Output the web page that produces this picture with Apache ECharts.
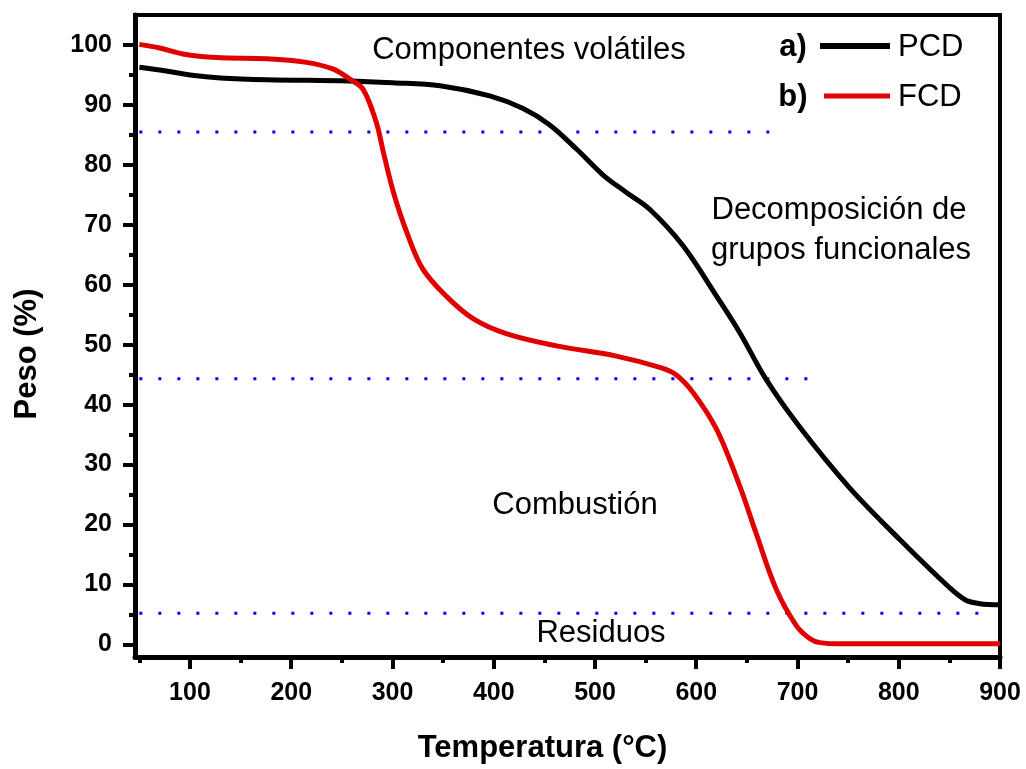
<!DOCTYPE html>
<html>
<head>
<meta charset="utf-8">
<script src="https://cdn.jsdelivr.net/npm/echarts@6/dist/echarts.min.js"></script>
<style>html,body{margin:0;padding:0;background:#fff}#c{width:1026px;height:769px}</style>
</head>
<body>
<div id="c"></div>
<script>
const xMajor = [100,200,300,400,500,600,700,800,900];
const xMinor = [50,150,250,350,450,550,650,750,850];
const yMajor = [0,10,20,30,40,50,60,70,80,90,100];
const yMinor = [5,15,25,35,45,55,65,75,85,95];

const pcd = [[50,96.3],[75,95.7],[100,95.0],[130,94.5],[176,94.2],[256,94.0],[300,93.7],[347,93.2],[396,91.5],[429,89.4],[455,86.7],[482,82.6],[508,78.3],[531,75.4],[554,72.6],[587,66.5],[620,58.1],[643,52.0],[669,44.2],[702,36.3],[751,26.2],[801,17.5],[850,9.5],[866,7.4],[880,6.8],[900,6.6]];
const fcd = [[50,100.1],[70,99.5],[93,98.5],[126,97.9],[176,97.7],[215,97.1],[241,96.0],[258,94.3],[271,92.6],[284,87.1],[291,82.1],[301,75.4],[314,68.8],[330,62.6],[353,58.1],[380,54.3],[413,51.8],[462,49.8],[521,48.1],[564,46.2],[580,45.0],[597,42.0],[620,35.9],[643,26.4],[659,18.6],[679,9.2],[699,3.1],[712,1.0],[722,0.3],[745,0.1],[800,0.1],[900,0.1]];

const refVolatile = [[50,85.5],[686,85.5]];
const refDecomp = [[50,44.3],[723,44.3]];
const refResidue = [[50,5.2],[892,5.2]];

const F = '"Liberation Sans", Arial, sans-serif';
const chart = echarts.init(document.getElementById('c'), null, {renderer:'canvas'});

function dotted(data){
  return {type:'line', data, xAxisIndex:0, yAxisIndex:0, symbol:'none', silent:true,
    lineStyle:{color:'#0000ff', width:3, type:[3,16], cap:'butt'}, z:1};
}
function curve(name, data, color){
  return {name, type:'line', data, smooth:0.35, symbol:'none',
    lineStyle:{color, width:5}, z:3};
}
function txt(text, x, y, font, align){
  return {type:'text', style:{text, x, y, align:align||'center', verticalAlign:'middle', font:font+' '+F, fill:'#000'}};
}

chart.setOption({
  animation:false,
  grid:{left:135, right:26, top:15, bottom:112, show:true, borderColor:'#000', borderWidth:4, backgroundColor:'transparent'},
  xAxis:[
    {type:'value', min:45.7, max:900, position:'bottom',
     name:'Temperatura (°C)', nameLocation:'middle', nameGap:76,
     nameTextStyle:{fontFamily:F, fontWeight:'bold', fontSize:31, color:'#000', padding:[0,50,0,0]},
     axisLine:{show:true, onZero:false, lineStyle:{color:'#000', width:5}},
     axisTick:{show:true, inside:false, length:12, lineStyle:{color:'#000', width:4}, customValues:xMajor},
     axisLabel:{fontFamily:F, fontWeight:'bold', fontSize:25, color:'#000', margin:24, customValues:xMajor},
     splitLine:{show:false}},
    {type:'value', min:45.7, max:900, position:'bottom',
     axisLine:{show:false, onZero:false},
     axisTick:{show:true, length:6, lineStyle:{color:'#000', width:4}, customValues:xMinor},
     axisLabel:{show:false}, splitLine:{show:false}}
  ],
  yAxis:[
    {type:'value', min:-2.1, max:105, position:'left',
     name:'Peso (%)', nameLocation:'middle', nameGap:92,
     nameTextStyle:{fontFamily:F, fontWeight:'bold', fontSize:31, color:'#000', padding:[0,36,0,0]},
     axisLine:{show:true, onZero:false, lineStyle:{color:'#000', width:5}},
     axisTick:{show:true, length:12, lineStyle:{color:'#000', width:4}, customValues:yMajor},
     axisLabel:{fontFamily:F, fontWeight:'bold', fontSize:25, color:'#000', margin:23, customValues:yMajor},
     splitLine:{show:false}},
    {type:'value', min:-2.1, max:105, position:'left',
     axisLine:{show:false, onZero:false},
     axisTick:{show:true, length:6, lineStyle:{color:'#000', width:4}, customValues:yMinor},
     axisLabel:{show:false}, splitLine:{show:false}}
  ],
  series:[
    dotted(refVolatile), dotted(refDecomp), dotted(refResidue),
    curve('PCD', pcd, '#000'),
    curve('FCD', fcd, '#e00000')
  ],
  graphic:[
    txt('Componentes volátiles', 529, 50, '31px'),
    txt('Decomposición de', 839, 210, '31px'),
    txt('grupos funcionales', 841, 250, '31px'),
    txt('Combustión', 575, 505, '31px'),
    txt('Residuos', 601, 633, '31px'),
    txt('a)', 793, 47, 'bold 31px'),
    {type:'line', shape:{x1:820, y1:46, x2:890, y2:46}, style:{stroke:'#000', lineWidth:6}},
    txt('PCD', 898, 47, '31px', 'left'),
    txt('b)', 793, 97, 'bold 31px'),
    {type:'line', shape:{x1:824, y1:96, x2:890, y2:96}, style:{stroke:'#e00000', lineWidth:5}},
    txt('FCD', 898, 97, '31px', 'left')
  ]
});
</script>
</body>
</html>
